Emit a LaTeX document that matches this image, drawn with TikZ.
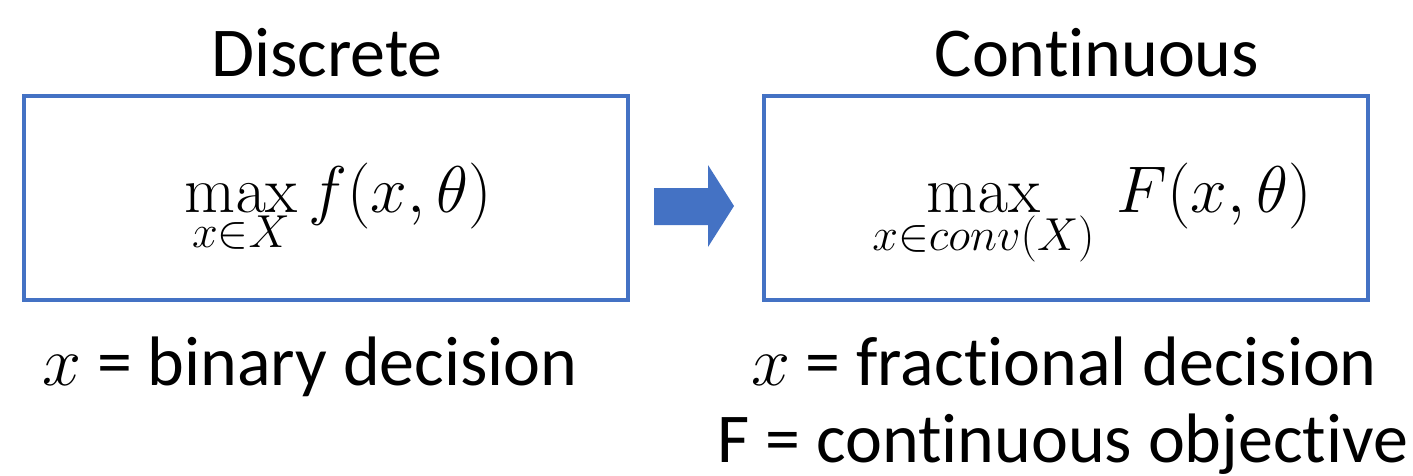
\RequirePackage{fix-cm}
\documentclass[tikz,border=0pt]{standalone}
\usepackage[no-math]{fontspec}
\setmainfont{Carlito}[Ligatures=NoCommon]
\definecolor{boxblue}{HTML}{4472C4}
\tikzset{
  box/.style={draw=boxblue,line width=2pt,minimum width=302pt,minimum height=102pt,inner sep=0pt},
  title/.style={anchor=base,font=\fontsize{35}{42}\selectfont,inner sep=0pt},
  note/.style={anchor=base,font=\fontsize{35}{42}\selectfont,inner sep=0pt},
  formula/.style={anchor=base west,font=\fontsize{33}{40}\selectfont,inner sep=0pt}
}
\begin{document}
\begin{tikzpicture}[x=0.5pt,y=-0.5pt]
\useasboundingbox (0,0) rectangle (1413,476);
\node[box] (left) at (326,198) {};
\node[box] (right) at (1066,198) {};
\node[title] (t1) at (327,77) {Discrete};
\node[title] (t2) at (1097,77) {Continuous};
\node[formula] (f1) at (184,213) {$\displaystyle\max_{x\in X} f(x,\theta)$};
\node[formula] (f2) at (872,213) {$\displaystyle\max_{x\in conv(X)} \,F(x,\theta)$};
\fill[boxblue] (654,188) -- (708,188) -- (708,165) -- (734,206) -- (708,247) -- (708,225) -- (654,225) -- cycle;
\node[note] (n1) at (310,385) {$x$ = binary decision};
\node[note] (n2) at (1064,385) {$x$ = fractional decision};
\node[note] (n3) at (1063,462) {F = continuous objective};
\end{tikzpicture}
\end{document}
